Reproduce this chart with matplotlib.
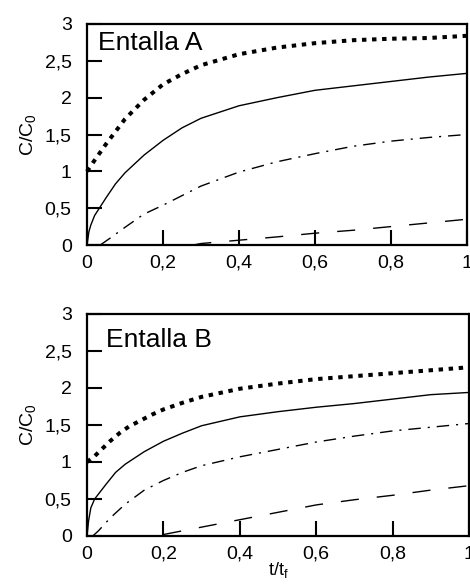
import matplotlib
matplotlib.use("Agg")
import matplotlib.pyplot as plt

plt.rcParams["font.family"] = ["Liberation Sans", "DejaVu Sans"]

# ---- Entalla A ----
a_dot_x = [0, 0.02, 0.05, 0.1, 0.15, 0.2, 0.25, 0.3, 0.4, 0.5, 0.6, 0.7, 0.8, 0.9, 1.0]
a_dot_y = [1.0, 1.15, 1.37, 1.71, 1.97, 2.18, 2.32, 2.44, 2.59, 2.68, 2.74, 2.78, 2.8, 2.81, 2.84]

a_sol_x = [0, 0.005, 0.01, 0.02, 0.035, 0.05, 0.075, 0.1, 0.15, 0.2, 0.25, 0.3, 0.4, 0.5, 0.6, 0.7, 0.8, 0.9, 1.0]
a_sol_y = [0, 0.18, 0.27, 0.4, 0.52, 0.64, 0.83, 0.98, 1.22, 1.42, 1.59, 1.72, 1.89, 2.0, 2.1, 2.16, 2.22, 2.28, 2.33]

a_dd_x = [0.035, 0.06, 0.1, 0.15, 0.2, 0.3, 0.4, 0.5, 0.6, 0.7, 0.8, 0.9, 1.0]
a_dd_y = [0.0, 0.09, 0.24, 0.42, 0.54, 0.8, 0.99, 1.13, 1.24, 1.34, 1.41, 1.46, 1.5]

a_das_x = [0.28, 0.3, 0.4, 0.5, 0.6, 0.7, 0.8, 0.9, 1.0]
a_das_y = [0.0, 0.02, 0.065, 0.11, 0.16, 0.2, 0.25, 0.3, 0.35]

# ---- Entalla B ----
b_dot_x = [0, 0.02, 0.04, 0.06, 0.085, 0.11, 0.14, 0.17, 0.2, 0.25, 0.3, 0.4, 0.5, 0.6, 0.7, 0.8, 0.9, 1.0]
b_dot_y = [1.0, 1.08, 1.18, 1.28, 1.39, 1.48, 1.56, 1.64, 1.71, 1.8, 1.88, 1.99, 2.06, 2.12, 2.16, 2.2, 2.24, 2.28]

b_sol_x = [0, 0.004, 0.01, 0.02, 0.035, 0.05, 0.075, 0.1, 0.15, 0.2, 0.25, 0.3, 0.4, 0.5, 0.6, 0.7, 0.8, 0.9, 1.0]
b_sol_y = [0.0, 0.2, 0.38, 0.5, 0.6, 0.7, 0.86, 0.97, 1.14, 1.28, 1.39, 1.49, 1.61, 1.68, 1.74, 1.79, 1.85, 1.91, 1.94]

b_dd_x = [0.015, 0.03, 0.06, 0.1, 0.15, 0.2, 0.25, 0.3, 0.4, 0.5, 0.6, 0.7, 0.8, 0.9, 1.0]
b_dd_y = [0.0, 0.07, 0.24, 0.43, 0.62, 0.75, 0.86, 0.95, 1.07, 1.17, 1.27, 1.35, 1.42, 1.47, 1.52]

b_das_x = [0.2, 0.25, 0.3, 0.4, 0.5, 0.6, 0.7, 0.8, 0.9, 1.0]
b_das_y = [0.02, 0.07, 0.12, 0.22, 0.32, 0.42, 0.49, 0.55, 0.62, 0.68]

x_ticks = [0, 0.2, 0.4, 0.6, 0.8, 1.0]
x_labels = ["0", "0,2", "0,4", "0,6", "0,8", "1"]
y_ticks = [0, 0.5, 1.0, 1.5, 2.0, 2.5, 3.0]
y_labels = ["0", "0,5", "1", "1,5", "2", "2,5", "3"]

W, H = 470, 587
fig = plt.figure(figsize=(W / 100, H / 100), dpi=100)


def px_axes(left, top, right, bottom):
    return fig.add_axes([left / W, 1 - bottom / H, (right - left) / W, (bottom - top) / H])


def draw_panel(ax, dot, sol, dd, das, title, title_xy):
    ax.plot(*dot, color="black", lw=2.9, linestyle=(0, (1.1, 1.4)),
            dash_capstyle="butt", clip_on=False)
    ax.plot(*sol, color="black", lw=1.0, clip_on=False)
    ax.plot(*dd, color="black", lw=1.0, linestyle=(0, (9, 5, 1.5, 5)), clip_on=False)
    ax.plot(*das, color="black", lw=1.0, linestyle=(0, (13, 13)), clip_on=False)
    ax.set_xlim(0, 1)
    ax.set_ylim(0, 3)
    ax.set_xticks(x_ticks)
    ax.set_xticklabels(x_labels)
    ax.set_yticks(y_ticks)
    ax.set_yticklabels(y_labels)
    ax.tick_params(direction="in", length=10.5, width=1.5, labelsize=14)
    ax.tick_params(axis="x", pad=7)
    ax.tick_params(axis="y", pad=11)
    for s in ax.spines.values():
        s.set_linewidth(1.6)
    ax.set_ylabel(r"$\mathregular{C/C_0}$", fontsize=14, labelpad=5)
    ax.text(title_xy[0], title_xy[1], title, transform=ax.transAxes,
            fontsize=19, ha="left", va="center")


ax1 = px_axes(87, 24, 467, 245)
draw_panel(ax1, (a_dot_x, a_dot_y), (a_sol_x, a_sol_y), (a_dd_x, a_dd_y),
           (a_das_x, a_das_y), "Entalla A", (0.028, 0.913))

ax2 = px_axes(87, 314, 469, 536)
draw_panel(ax2, (b_dot_x, b_dot_y), (b_sol_x, b_sol_y), (b_dd_x, b_dd_y),
           (b_das_x, b_das_y), "Entalla B", (0.05, 0.883))
ax2.set_xlabel(r"$\mathregular{t/t_f}$", fontsize=13, labelpad=-2)

fig.savefig("out.png", dpi=100)
